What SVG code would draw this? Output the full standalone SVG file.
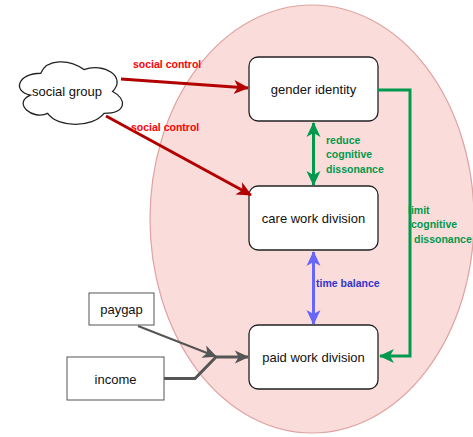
<svg xmlns="http://www.w3.org/2000/svg" width="473" height="437" viewBox="0 0 473 437">
<defs>
<style>
.box{fill:#fff;stroke:#222;stroke-width:1.3}
.lbl{font-family:"Liberation Sans",Arial,sans-serif;font-size:13px;fill:#111;text-anchor:middle}
.el{font-family:"Liberation Sans",Arial,sans-serif;font-size:10.5px;font-weight:bold}
.red{fill:#ff0000}
.grn{fill:#00994d}
.blu{fill:#3333cc}
</style>
<marker id="ar" viewBox="0 0 16 16" refX="14" refY="8" markerWidth="16" markerHeight="16" markerUnits="userSpaceOnUse" orient="auto"><path d="M0,1 L15,8 L0,15 L4,8 Z" fill="#b20000"/></marker>
<marker id="ag" viewBox="0 0 16 16" refX="14" refY="8" markerWidth="16" markerHeight="16" markerUnits="userSpaceOnUse" orient="auto-start-reverse"><path d="M0,1 L15,8 L0,15 L4,8 Z" fill="#00994d"/></marker>
<marker id="ab" viewBox="0 0 16 16" refX="14" refY="8" markerWidth="16" markerHeight="16" markerUnits="userSpaceOnUse" orient="auto-start-reverse"><path d="M0,1 L15,8 L0,15 L4,8 Z" fill="#6666ff"/></marker>
<marker id="ak" viewBox="0 0 16 16" refX="14" refY="8" markerWidth="15" markerHeight="15" markerUnits="userSpaceOnUse" orient="auto"><path d="M0,1 L15,8 L0,15 L4,8 Z" fill="#555"/></marker>
</defs>
<g id="scope">
<ellipse cx="312" cy="219" rx="162" ry="214" fill="#fadcdb" stroke="#dfa3a1" stroke-width="1.2"/>
</g>
<g id="social-group">
<path d="M40.75,73.25 C17.75,73.25 12,91.5 30.4,95.15 C12,103.18 32.7,120.7 47.65,113.4 C58,128 92.5,128 104,113.4 C127,113.4 127,98.8 112.6,91.5 C127,76.9 104,62.3 83.9,69.6 C69.5,58.65 46.5,58.65 40.75,73.25 Z" fill="#fff" stroke="#222" stroke-width="1.3"/>
<text class="lbl" x="67" y="95.5">social group</text>
</g>
<g id="gender-identity">
<rect class="box" x="249" y="57" width="129" height="64" rx="9"/>
<text class="lbl" x="313.5" y="93.5">gender identity</text>
</g>
<g id="care-work-division">
<rect class="box" x="249" y="186" width="129" height="64" rx="9"/>
<text class="lbl" x="313.5" y="222.5">care work division</text>
</g>
<g id="paid-work-division">
<rect class="box" x="249" y="325" width="129" height="64" rx="9"/>
<text class="lbl" x="313.5" y="361.5">paid work division</text>
</g>
<g id="paygap">
<rect x="89" y="293" width="65" height="32" fill="#fff" stroke="#555" stroke-width="1"/>
<text class="lbl" x="121.5" y="313.5">paygap</text>
</g>
<g id="income">
<rect x="67" y="357" width="97" height="43" fill="#fff" stroke="#555" stroke-width="1"/>
<text class="lbl" x="115.5" y="383.5">income</text>
</g>
<g id="connectors" fill="none">
<line x1="121" y1="79" x2="248" y2="88" stroke="#b20000" stroke-width="3" marker-end="url(#ar)"/>
<text class="el red" x="133" y="68">social control</text>
<line x1="106" y1="116" x2="251" y2="195" stroke="#b20000" stroke-width="3" marker-end="url(#ar)"/>
<text class="el red" x="131" y="131">social control</text>
<line x1="313.5" y1="123" x2="313.5" y2="185" stroke="#00994d" stroke-width="3" marker-start="url(#ag)" marker-end="url(#ag)"/>
<text class="el grn" x="326" y="144">reduce</text>
<text class="el grn" x="326" y="158">cognitive</text>
<text class="el grn" x="326" y="173">dissonance</text>
<polyline points="378,90 410,90 410,356 380,356" stroke="#00994d" stroke-width="3" marker-end="url(#ag)"/>
<text class="el grn" x="408" y="214">limit</text>
<text class="el grn" x="411" y="228">cognitive</text>
<text class="el grn" x="414" y="243">dissonance</text>
<line x1="313.5" y1="252" x2="313.5" y2="324" stroke="#6666ff" stroke-width="3" marker-start="url(#ab)" marker-end="url(#ab)"/>
<text class="el blu" x="316" y="287">time balance</text>
<line x1="138" y1="326" x2="216" y2="356.5" stroke="#555" stroke-width="2" marker-end="url(#ak)"/>
<polyline points="164,378.5 195,378.5 216,357 248,357" stroke="#555" stroke-width="3" marker-end="url(#ak)"/>
</g>
</svg>
